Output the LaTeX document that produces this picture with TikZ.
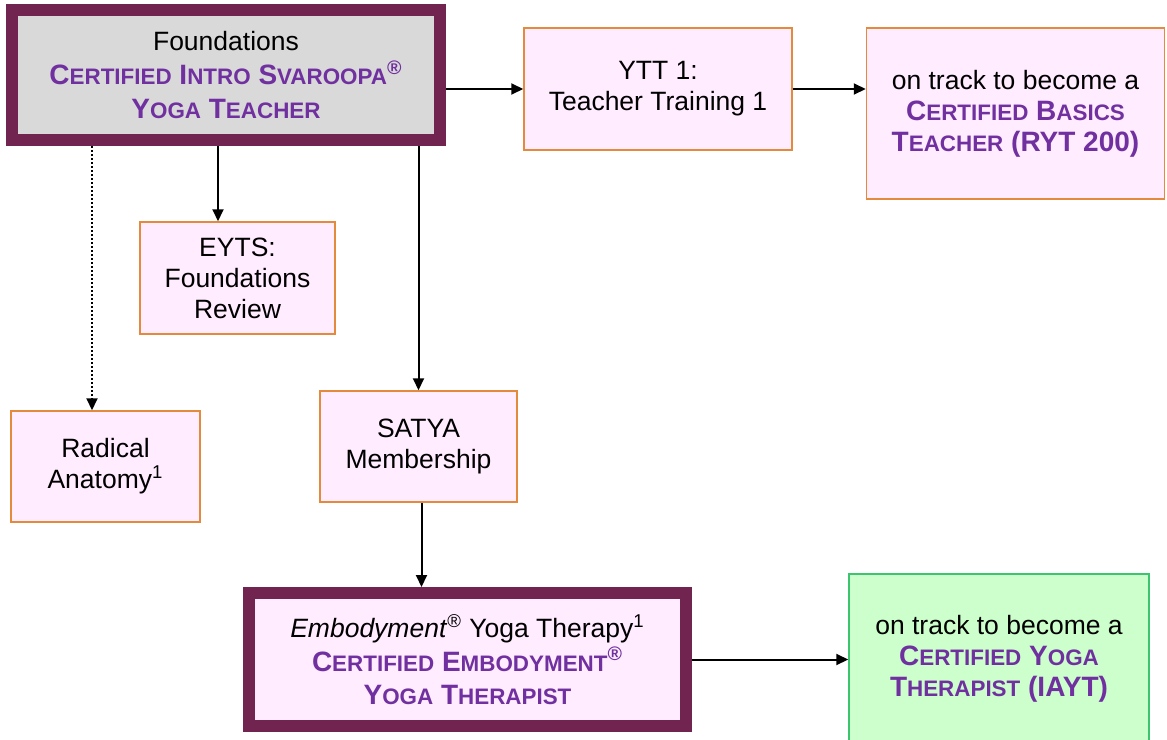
\documentclass[tikz,border=0pt]{standalone}
\usepackage{fontspec}
\setmainfont{Liberation Sans}
\usetikzlibrary{arrows.meta}

\definecolor{maroon}{HTML}{722450}
\definecolor{purpletext}{HTML}{7030A0}
\definecolor{boxorange}{HTML}{E48A3C}
\definecolor{boxpink}{HTML}{FFECFF}
\definecolor{boxgrey}{HTML}{D9D9D9}
\definecolor{boxgreen}{HTML}{CCFFCC}
\definecolor{edgegreen}{HTML}{3CC46E}

% fake small caps, as in the original
\newcommand{\smc}[1]{{\fontsize{11.2}{15.5}\selectfont\MakeUppercase{#1}}}
\newcommand{\cert}[1]{{\color{purpletext}\bfseries\fontsize{14}{15.5}\selectfont #1}}
\newcommand{\reg}{\textsuperscript{\textregistered}}

\tikzset{
    pinkbox/.style={draw=boxorange, fill=boxpink, line width=0.75pt, inner sep=0pt,
        align=center, font=\fontsize{13.25}{15.5}\selectfont},
    thickbox/.style={draw=maroon, line width=6pt, inner sep=0pt,
        align=center, font=\fontsize{13.25}{16.8}\selectfont},
    arr/.style={-{Triangle[length=6pt,width=5.5pt]}, line width=1pt},
}

\begin{document}
\begin{tikzpicture}[x=0.5pt, y=-0.5pt]
    \useasboundingbox (0,0) rectangle (1167,739);

    % certificate boxes
    \node[thickbox, fill=boxgrey, minimum width=214pt, minimum height=65pt] (found) at (226,75)
        {Foundations\\
         \cert{C\smc{ertified} I\smc{ntro} S\smc{varoopa}\reg}\\
         \cert{Y\smc{oga} T\smc{eacher}}};
    \node[thickbox, fill=boxpink, minimum width=218.5pt, minimum height=66.5pt] (emb) at (467.5,659.5)
        {\textit{Embodyment}\reg{} Yoga Therapy\textsuperscript{1}\\
         \cert{C\smc{ertified} E\smc{mbodyment}\reg}\\
         \cert{Y\smc{oga} T\smc{herapist}}};

    % course boxes
    \node[pinkbox, minimum width=134pt, minimum height=61pt] (ytt) at (658,89)
        {YTT 1:\\Teacher Training 1};
    \node[pinkbox, minimum width=149pt, minimum height=85.5pt] (basics) at (1015.5,113.5)
        {on track to become a\\
         \cert{C\smc{ertified} B\smc{asics}}\\
         \cert{T\smc{eacher} (RYT 200)}};
    \node[pinkbox, minimum width=97.5pt, minimum height=56pt] (eyts) at (237.5,278)
        {EYTS:\\Foundations\\Review};
    \node[pinkbox, minimum width=94.5pt, minimum height=55.5pt] (radical) at (105.5,466.5)
        {Radical\\Anatomy\textsuperscript{1}};
    \node[pinkbox, minimum width=98.5pt, minimum height=55.5pt] (satya) at (418.5,446.5)
        {SATYA\\Membership};
    \node[pinkbox, draw=edgegreen, fill=boxgreen, minimum width=150pt, minimum height=85pt] (iayt) at (999,659)
        {on track to become a\\
         \cert{C\smc{ertified} Y\smc{oga}}\\
         \cert{T\smc{herapist} (IAYT)}};

    % x positions of the vertical arrows
    \coordinate (xeyts) at (218,0);
    \coordinate (xrad) at (92,0);
    \coordinate (xemb) at (421.5,0);

    % arrows
    \draw[arr] (found.east |- ytt.west) -- (ytt.west);
    \draw[arr] (ytt.east) -- (ytt.east -| basics.west);
    \draw[arr] (xeyts |- found.south) -- (xeyts |- eyts.north);
    \draw[arr, dash pattern=on 1pt off 1pt] (xrad |- found.south) -- (xrad |- radical.north);
    \draw[arr] (found.south -| satya.north) -- (satya.north);
    \draw[arr] (xemb |- satya.south) -- (xemb |- emb.north);
    \draw[arr] (emb.east) -- (emb.east -| iayt.west);
\end{tikzpicture}
\end{document}
